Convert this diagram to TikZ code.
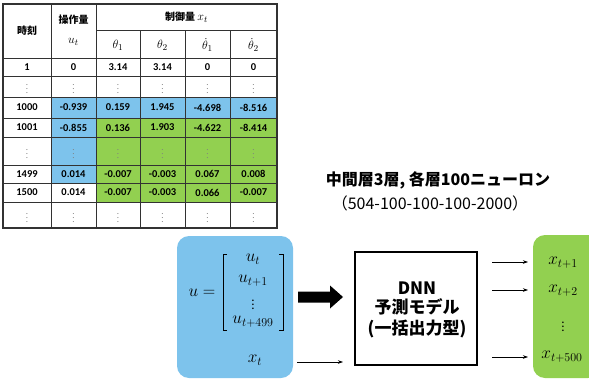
\documentclass[tikz,border=0pt]{standalone}
\usepackage{fontspec}
\setmainfont{Carlito}
\newfontfamily\jp{Noto Sans CJK JP}
\usetikzlibrary{arrows.meta,shapes.arrows}
\definecolor{cblue}{RGB}{125,195,236}
\definecolor{cgreen}{RGB}{146,208,80}
\definecolor{gridc}{RGB}{50,50,50}
\tikzset{
  cell/.style={font=\bfseries\fontsize{10.5}{12}\selectfont, inner sep=0pt},
  hdr/.style={font=\jp\bfseries\fontsize{10}{12}\selectfont, inner sep=0pt},
  hmath/.style={font=\fontsize{12.5}{14}\selectfont, inner sep=0pt},
  vd/.style={text=gray, inner sep=0pt, font=\fontsize{9}{9}\selectfont},
  thin arrow/.style={-{Stealth[length=5pt,width=3.5pt]}, line width=0.6pt},
  big/.style={font=\jp\bfseries\fontsize{17}{19}\selectfont, inner sep=0pt},
  mth/.style={font=\fontsize{17}{19}\selectfont, inner sep=0pt},
}
\begin{document}
\begin{tikzpicture}[x=1pt,y=-1pt]
\useasboundingbox (0,0) rectangle (589,380);
% ---- table fills
\fill[cblue] (51,97) rectangle (277,118);
\fill[cblue] (51,118) rectangle (96,183);
\fill[cgreen] (96,118) rectangle (277,202);
% ---- grid
\foreach \y in {58,76,97,118,137,165,183,202}
  \draw[gridc, line width=0.8pt] (3,\y) -- (277,\y);
\draw[gridc, line width=0.8pt] (96,30) -- (277,30);
\foreach \x in {51,96}
  \draw[gridc, line width=0.8pt] (\x,4) -- (\x,228);
\foreach \x in {140,185,230}
  \draw[gridc, line width=0.8pt] (\x,30) -- (\x,228);
\draw[gridc, line width=1.3pt] (3,4) rectangle (277,228);
% ---- header
\node[hdr] (h0) at (27,31) {時刻};
\node[hdr] (h1) at (73.5,20) {操作量};
\node[hmath] (h1b) at (73.5,42) {$u_t$};
\node[hdr] (h2) at (186.5,17) {制御量 {\normalfont\fontsize{12.5}{14}\selectfont$x_t$}};
\node[hmath] (th1) at (118,45) {$\theta_1$};
\node[hmath] (th2) at (162.5,45) {$\theta_2$};
\node[hmath] (th3) at (207.5,45) {$\dot\theta_1$};
\node[hmath] (th4) at (253.5,45) {$\dot\theta_2$};
% ---- rows
\foreach \a/\b/\c/\d/\e/\f [count=\i] in {
  1/0/3.14/3.14/0/0,
  1000/-0.939/0.159/1.945/-4.698/-8.516,
  1001/-0.855/0.136/1.903/-4.622/-8.414,
  1499/0.014/-0.007/-0.003/0.067/0.008,
  1500/0.014/-0.007/-0.003/0.066/-0.007}{
  \pgfmathsetmacro{\yy}{{67,107.5,127.5,174,192.5}[\i-1]}
  \node[cell] (r\i a) at (27,\yy) {\a};
  \node[cell] (r\i b) at (73.5,\yy) {\b};
  \node[cell] (r\i c) at (118,\yy) {\c};
  \node[cell] (r\i d) at (162.5,\yy) {\d};
  \node[cell] (r\i e) at (207.5,\yy) {\e};
  \node[cell] (r\i f) at (253.5,\yy) {\f};
}
\foreach \yy/\n in {86.5/p,151/q,215/s}
  \foreach \xx/\m in {27/a,73.5/b,118/c,162.5/d,207.5/e,253.5/f}
    \node[vd] (\n\m) at (\xx,\yy) {$\vdots$};
% ---- caption
\node[font=\jp\bfseries\fontsize{16}{18}\selectfont, inner sep=0pt] (cap1) at (438,180) {中間層3層, 各層100ニューロン};
\node[font=\jp\fontsize{16}{18}\selectfont, inner sep=0pt] (cap2) at (430,203) {（504-100-100-100-2000）};
% ---- blue input box
\fill[cblue, rounded corners=12pt] (177,236) rectangle (293,378);
\node[mth] (ueq) at (202,293) {$u=$};
\node[mth] (u0) at (253,259) {$u_t$};
\node[mth] (u1) at (253,281) {$u_{t+1}$};
\node[mth, font=\fontsize{13}{13}\selectfont] (u2) at (253,302) {$\vdots$};
\node[mth] (u3) at (253,322) {$u_{t+499}$};
\draw[line width=0.8pt] (227,254) -- (223,254) -- (223,330) -- (227,330);
\draw[line width=0.8pt] (279,254) -- (283,254) -- (283,330) -- (279,330);
\node[mth] (xt) at (255,360) {$x_t$};
% ---- DNN box
\node[draw, line width=1.8pt, minimum width=122pt, minimum height=113pt, inner sep=0pt] (dnn) at (416,308.5) {};
\node[big] (d1) at (417,288) {DNN};
\node[big] (d2) at (417,307) {予測モデル};
\node[big] (d3) at (417,329) {(一括出力型)};
% ---- fat arrow
\coordinate (fs) at (298,297);
\coordinate (fe) at (343,297);
\fill[black] ([yshift=-5.5pt]fs) -- ([xshift=-13pt,yshift=-5.5pt]fe) -- ([xshift=-13pt,yshift=-11.5pt]fe) -- (fe)
  -- ([xshift=-13pt,yshift=11.5pt]fe) -- ([xshift=-13pt,yshift=5.5pt]fe) -- ([yshift=5.5pt]fs) -- cycle;
% ---- thin arrow from x_t
\coordinate (xs) at (297,362);
\coordinate (xe) at (343,362);
\draw[thin arrow] (xs) -- (xe);
% ---- green output box
\fill[cgreen, rounded corners=12pt] (533,235) rectangle (600,378);
\node[mth] (o1) at (563,263) {$x_{t+1}$};
\node[mth] (o2) at (563,291) {$x_{t+2}$};
\node[mth, font=\fontsize{13}{13}\selectfont] (o3) at (563,324) {$\vdots$};
\node[mth] (o4) at (562,357) {$x_{t+500}$};
\foreach \o/\yy in {o1/262,o2/290,o4/357}{
  \coordinate (s\o) at (492,\yy);
  \coordinate (e\o) at (528,\yy);
  \draw[thin arrow] (s\o) -- (e\o);
}
\end{tikzpicture}
\end{document}
